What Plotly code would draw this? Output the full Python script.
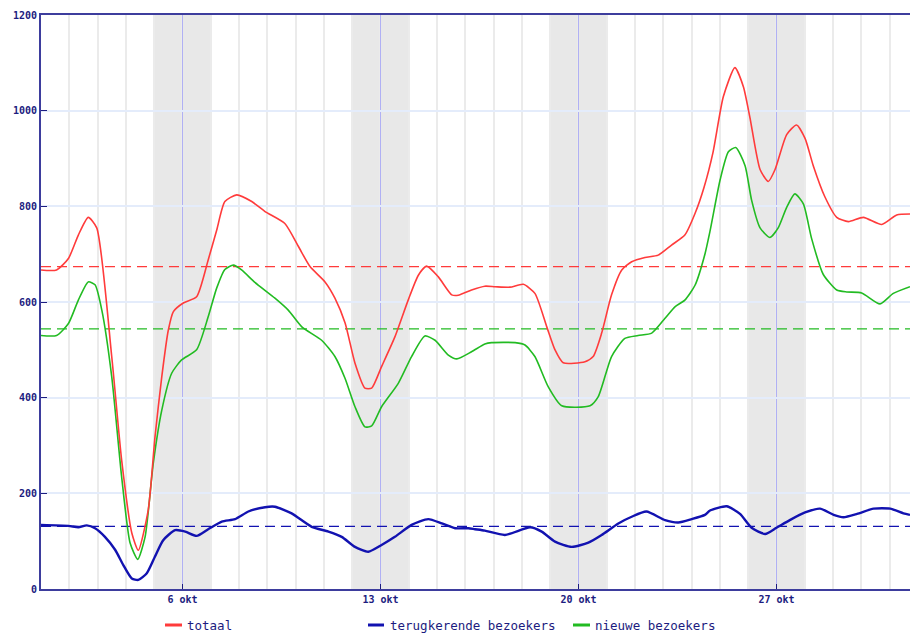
import plotly.graph_objects as go
import pandas as pd

# ---------------- data (day offsets from 1 Oct 2013, values) ----------------
totaal_days = [0.0, 0.55, 0.97, 1.32, 1.67, 1.97, 2.50, 2.85, 3.21, 3.44, 3.79, 4.03, 4.27, 4.50,
               4.68, 5.03, 5.50, 5.91, 6.21, 6.50, 6.92, 7.45, 7.92, 8.62, 9.10, 9.51, 10.04,
               10.39, 10.75, 11.10, 11.45, 11.69, 12.04, 12.51, 12.98, 13.34, 13.63, 14.04,
               14.52, 14.75, 15.22, 15.69, 16.05, 16.58, 17.05, 17.46, 17.88, 18.17, 18.46,
               19.23, 19.52, 19.82, 20.17, 20.53, 20.88, 21.35, 21.82, 22.29, 22.76, 23.12,
               23.44, 23.76, 24.12, 24.53, 24.83, 25.06, 25.42, 25.71, 25.95, 26.36, 26.71,
               27.01, 27.30, 27.71, 28.13, 28.54, 29.07, 29.72, 30.25, 30.72]
totaal_vals = [667, 667, 691, 740, 777, 755, 486, 270, 117, 81, 165, 318, 444, 541,
               580, 598, 611, 688, 750, 810, 824, 810, 789, 764, 716, 674, 642,
               608, 556, 472, 420, 420, 465, 527, 604, 656, 675, 653,
               615, 614, 625, 633, 632, 631, 637, 618, 548, 500, 473,
               475, 486, 535, 615, 667, 684, 693, 698, 719, 740, 785,
               840, 914, 1029, 1090, 1050, 986, 877, 852, 877, 950, 970,
               942, 885, 820, 777, 768, 777, 762, 782, 784]

nieuw_days = [0.0, 0.55, 0.97, 1.32, 1.67, 1.91, 2.15, 2.50, 2.85, 3.15, 3.42, 3.68, 3.97, 4.27,
              4.62, 4.97, 5.50, 5.91, 6.21, 6.50, 6.80, 7.09, 7.56, 8.27, 8.74, 9.22, 9.92,
              10.39, 10.75, 11.10, 11.45, 11.69, 12.04, 12.63, 13.10, 13.57, 13.93, 14.40,
              14.70, 15.22, 15.69, 15.93, 16.76, 17.11, 17.46, 17.93, 18.41, 19.41, 19.70,
              20.17, 20.64, 21.11, 21.59, 22.06, 22.41, 22.76, 23.12, 23.47, 23.65, 24.01,
              24.30, 24.56, 24.89, 25.12, 25.42, 25.77, 26.06, 26.36, 26.65, 26.95, 27.24,
              27.65, 28.13, 28.48, 29.01, 29.66, 30.13, 30.72]
nieuw_vals = [530, 530, 555, 604, 642, 636, 583, 444, 235, 96, 62, 109, 263, 374,
              451, 479, 500, 569, 629, 668, 677, 667, 641, 608, 583, 548, 520,
              486, 440, 381, 339, 341, 381, 430, 486, 529, 520, 489,
              481, 496, 512, 515, 515, 510, 486, 423, 383, 383, 402,
              486, 524, 530, 535, 566, 590, 604, 635, 700, 748, 856,
              914, 923, 885, 813, 755, 735, 755, 798, 826, 805, 733,
              658, 625, 621, 619, 596, 618, 632]

terug_days = [0.0, 0.97, 1.32, 1.62, 1.91, 2.26, 2.62, 2.91, 3.21, 3.44, 3.74, 4.03, 4.32, 4.74,
              5.10, 5.50, 5.91, 6.39, 6.86, 7.33, 7.92, 8.27, 8.86, 9.57, 10.16, 10.63, 11.10,
              11.57, 12.04, 12.51, 13.10, 13.69, 14.17, 14.64, 15.11, 15.34, 15.69, 16.40,
              17.29, 17.70, 18.17, 18.76, 19.35, 19.82, 20.41, 20.88, 21.40, 22.06, 22.53,
              23.00, 23.47, 23.65, 24.24, 24.71, 25.12, 25.60, 26.00, 26.47, 27.01, 27.54,
              28.02, 28.37, 28.85, 29.43, 30.02, 30.49, 30.72]
terug_vals = [134, 132, 129, 133, 127, 109, 82, 50, 22, 19, 33, 68, 102, 123,
              120, 111, 125, 141, 146, 162, 171, 172, 158, 130, 120, 109, 88,
              78, 92, 109, 134, 146, 137, 127, 127, 125, 122, 113,
              129, 120, 99, 88, 97, 113, 137, 151, 162, 144, 139,
              146, 155, 164, 173, 157, 128, 115, 128, 144, 160, 168,
              155, 150, 157, 168, 168, 158, 155]

gemiddelde = {"totaal": 674, "nieuw": 544, "terug": 131}

weekend_starts = ["2013-10-05", "2013-10-12", "2013-10-19", "2013-10-26"]
tick_dates = ["2013-10-06", "2013-10-13", "2013-10-20", "2013-10-27"]
tick_labels = ["6 okt", "13 okt", "20 okt", "27 okt"]
y_ticks = [0, 200, 400, 600, 800, 1000, 1200]

series_names = ["totaal", "terugkerende bezoekers", "nieuwe bezoekers"]

# ---------------- styling ----------------
RED = "#ff3b3b"
GREEN = "#22bb22"
BLUE = "#1212b0"
NAVY = "#1c1c80"
AXIS = "#3d3d9d"

base = pd.Timestamp("2013-10-01")


def to_dates(days):
    return [base + pd.Timedelta(days=d) for d in days]


x_end = base + pd.Timedelta(days=30.72)

W, H = 910, 636
ML, MT, MR, MB = 41, 15, 0, 47
PW, PH = W - ML - MR, H - MT - MB


def px_x(px):
    return (px - ML) / PW


def px_y(py):
    return (H - MB - py) / PH


fig = go.Figure()

# average dashed lines
for key, col in [("totaal", RED), ("nieuw", GREEN), ("terug", BLUE)]:
    fig.add_trace(go.Scatter(x=[base, x_end], y=[gemiddelde[key]] * 2, mode="lines",
                             line=dict(color=col, width=1.2, dash="10px,6px"),
                             showlegend=False, hoverinfo="skip"))

fig.add_trace(go.Scatter(x=to_dates(nieuw_days), y=nieuw_vals, mode="lines",
                         name=series_names[2], showlegend=False,
                         line=dict(color=GREEN, width=1.6, shape="spline", smoothing=0.6)))
fig.add_trace(go.Scatter(x=to_dates(totaal_days), y=totaal_vals, mode="lines",
                         name=series_names[0], showlegend=False,
                         line=dict(color=RED, width=1.6, shape="spline", smoothing=0.6)))
fig.add_trace(go.Scatter(x=to_dates(terug_days), y=terug_vals, mode="lines",
                         name=series_names[1], showlegend=False,
                         line=dict(color=BLUE, width=2.4, shape="spline", smoothing=0.6)))

# weekend bands
for s in weekend_starts:
    s0 = pd.Timestamp(s)
    fig.add_shape(type="rect", xref="x", yref="paper", x0=s0, x1=s0 + pd.Timedelta(days=2),
                  y0=0, y1=1, fillcolor="#e8e8e8", line=dict(width=0), layer="below")

# manual legend
legend_items = [
    (series_names[0], RED, 165, 182, 185),
    (series_names[1], BLUE, 368, 384, 388),
    (series_names[2], GREEN, 573, 590, 593),
]
ly = px_y(625)
for name, col, l0, l1, tx in legend_items:
    fig.add_shape(type="line", xref="paper", yref="paper", x0=px_x(l0), x1=px_x(l1),
                  y0=ly, y1=ly, line=dict(color=col, width=3))
    fig.add_annotation(xref="paper", yref="paper", x=px_x(tx), y=ly, text=name,
                       showarrow=False, xanchor="left", yanchor="middle",
                       font=dict(family="DejaVu Sans Mono", size=12.5, color=NAVY))

fig.update_layout(
    width=W, height=H,
    margin=dict(l=ML, r=MR, t=MT, b=MB),
    paper_bgcolor="white", plot_bgcolor="white",
    showlegend=False,
    font=dict(family="DejaVu Sans Mono", color=NAVY, size=10),
)
fig.update_xaxes(
    type="date", range=[base, x_end],
    tickmode="array", tickvals=tick_dates, ticktext=tick_labels,
    ticks="inside", ticklen=5, tickcolor=NAVY, tickwidth=1,
    tickfont=dict(family="DejaVu Sans Mono", size=10, color=NAVY, weight="bold"),
    showgrid=True, gridcolor="#b0b0f4", gridwidth=1,
    minor=dict(dtick=86400000, tick0="2013-10-01", showgrid=True,
               gridcolor="#ebebeb", gridwidth=1.5),
    showline=True, linecolor=AXIS, linewidth=2, mirror=True,
    zeroline=False,
)
fig.update_yaxes(
    range=[0, 1200], tickmode="array", tickvals=y_ticks,
    ticks="inside", ticklen=6, tickcolor=NAVY, tickwidth=1,
    tickfont=dict(family="DejaVu Sans Mono", size=10, color=NAVY, weight="bold"),
    showgrid=True, gridcolor="#e4ecfb", gridwidth=2,
    showline=True, linecolor=AXIS, linewidth=2,
    zeroline=False,
)

fig.write_html("out.html", config={"displayModeBar": False},
               post_script="document.body.style.margin='0';document.body.style.overflow='hidden';")
